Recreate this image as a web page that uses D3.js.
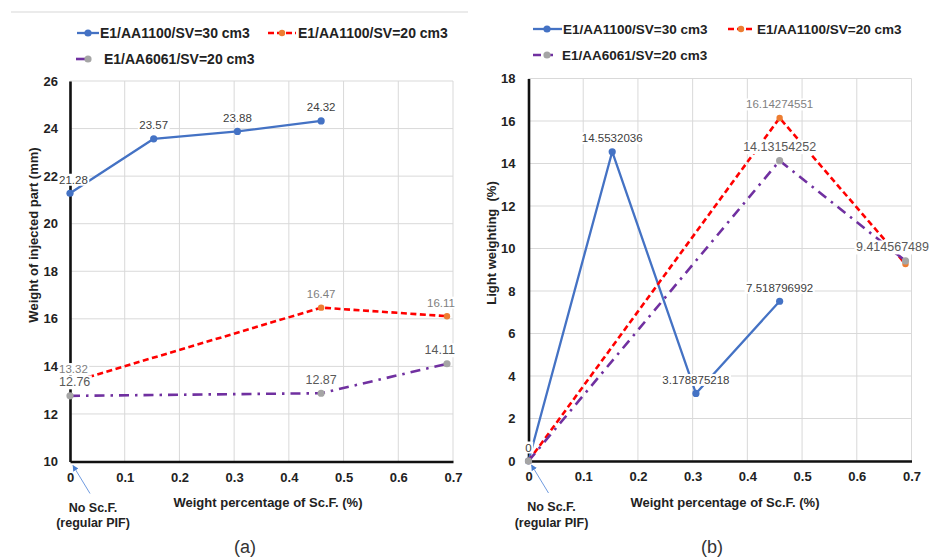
<!DOCTYPE html>
<html>
<head>
<meta charset="utf-8">
<script src="https://cdn.jsdelivr.net/npm/d3@7"></script>
<style>
  body { margin: 0; background: #fff; }
  svg { display: block; font-family: "Liberation Sans", Arial, sans-serif; }
  .pre { white-space: pre; }
</style>
</head>
<body>
<svg id="chart" width="932" height="558"></svg>
<script>
// Weight percentage of Sc.F. (%) at each sample
const xBlue = [0, 0.153, 0.306, 0.459];
const xRedPurple = [0, 0.459, 0.689];

// (a) Weight of injected part (mm)
const weightBlue = [21.28, 23.57, 23.88, 24.32];
const weightRed = [13.32, 16.47, 16.11];
const weightPurple = [12.76, 12.87, 14.11];
const weightBlueShown = [true, true, true, true];
const weightRedShown = [true, true, true];
const weightPurpleShown = [true, true, true];

// (b) Light weighting (%)
const lightBlue = [0, 14.5532036, 3.178875218, 7.518796992];
const lightRed = [0, 16.14274551, 9.27];
const lightPurple = [0, 14.13154252, 9.414567489];
const lightBlueShown = [true, true, true, true];
const lightRedShown = [false, true, false];
const lightPurpleShown = [false, true, true];

const seriesNames = ["E1/AA1100/SV=30 cm3", "E1/AA1100/SV=20 cm3", "E1/AA6061/SV=20 cm3"];
const xTicks = [0, 0.1, 0.2, 0.3, 0.4, 0.5, 0.6, 0.7];
const yTicksA = [10, 12, 14, 16, 18, 20, 22, 24, 26];
const yTicksB = [0, 2, 4, 6, 8, 10, 12, 14, 16, 18];
const xTitle = "Weight percentage of Sc.F. (%)";
const yTitleA = "Weight of injected part (mm)";
const yTitleB = "Light weighting  (%)";
const noteLines = ["No Sc.F.", "(regular PIF)"];

// line / marker / label styling per series
const styles = [
  { stroke: "#4472c4", width: 2.3, dash: null, marker: "#4472c4", r: 3.6, label: "#404040", fs: 11.5 },
  { stroke: "#ff0000", width: 2.6, dash: "6,3.5", marker: "#ed7d31", r: 3.2, label: "#7f7f7f", fs: 11.5 },
  { stroke: "#7030a0", width: 2.6, dash: "10,6,2.5,6", marker: "#a5a5a5", r: 3.6, label: "#595959", fs: 12.5 }
];

const svg = d3.select("#chart");

// thin rule across the top of panel (a)
svg.append("line")
  .attr("x1", 11).attr("x2", 468).attr("y1", 12).attr("y2", 12)
  .attr("stroke", "#e4e4e4").attr("stroke-width", 1.5);

function styleTicks(sel) {
  sel.selectAll("text").attr("font-size", 13).attr("font-weight", "bold").attr("fill", "#222")
    .attr("font-family", "Liberation Sans, Arial, sans-serif");
}

function drawPanel(cfg) {
  const g = svg.append("g");
  const gridLayer = g.append("g");
  const axisLayer = g.append("g");
  const seriesLayer = g.append("g");
  const labelLayer = g.append("g");
  const tickLayer = g.append("g");

  const x = d3.scaleLinear().domain([0, 0.7]).range([cfg.left, cfg.right]);
  const y = d3.scaleLinear().domain(cfg.yDomain).range([cfg.bottom, cfg.top]);

  // gridlines
  gridLayer.append("g").selectAll("line").data(cfg.yTicks).join("line")
    .attr("x1", cfg.left).attr("x2", cfg.right)
    .attr("y1", d => y(d)).attr("y2", d => y(d))
    .attr("stroke", "#d9d9d9").attr("stroke-width", 1);
  gridLayer.append("g").selectAll("line").data(xTicks).join("line")
    .attr("x1", d => x(d)).attr("x2", d => x(d))
    .attr("y1", cfg.top).attr("y2", cfg.bottom)
    .attr("stroke", "#d9d9d9").attr("stroke-width", 1);

  // axis lines (value-axis line sits under the data labels)
  const ax = axisLayer.append("g").attr("transform", `translate(0,${cfg.bottom})`)
    .call(d3.axisBottom(x).tickValues(xTicks).tickSize(0).tickPadding(11)
      .tickFormat(d => d === 0 ? "0" : d3.format(".1f")(d)));
  ax.select(".domain").attr("stroke", "#111").attr("stroke-width", 2.6);
  styleTicks(ax);
  const ayLine = axisLayer.append("g").attr("transform", `translate(${cfg.left},0)`)
    .call(d3.axisLeft(y).tickValues([]).tickSize(0).tickSizeOuter(0));
  ayLine.select(".domain").attr("stroke", "#111").attr("stroke-width", 2.6);

  // value-axis tick labels, kept above the label backings
  const ay = tickLayer.append("g").attr("transform", `translate(${cfg.left},0)`)
    .call(d3.axisLeft(y).tickValues(cfg.yTicks).tickSize(0).tickPadding(cfg.yPad));
  ay.select(".domain").remove();
  styleTicks(ay);

  // series lines and markers
  const line = d3.line().x(d => x(d[0])).y(d => y(d[1]));
  cfg.series.forEach((s, i) => {
    const st = styles[i];
    const pts = s.xs.map((v, k) => [v, s.ys[k]]);
    seriesLayer.append("path").datum(pts).attr("d", line)
      .attr("fill", "none").attr("stroke", st.stroke).attr("stroke-width", st.width)
      .attr("stroke-dasharray", st.dash).attr("stroke-linejoin", "round");
    seriesLayer.append("g").selectAll("circle").data(pts).join("circle")
      .attr("cx", d => x(d[0])).attr("cy", d => y(d[1])).attr("r", st.r)
      .attr("fill", st.marker);
  });

  // data labels with white backing
  cfg.series.forEach((s, i) => {
    const st = styles[i];
    s.xs.forEach((v, k) => {
      if (!s.shown[k]) return;
      const lg = labelLayer.append("g");
      const t = lg.append("text")
        .attr("x", x(v)).attr("y", y(s.ys[k]) - 13.5)
        .attr("text-anchor", "middle").attr("dominant-baseline", "central")
        .attr("font-size", st.fs).attr("fill", st.label)
        .text(String(s.ys[k]));
      let bb = t.node().getBBox();
      const over = bb.x + bb.width - cfg.labelMaxX;
      const under = cfg.labelMinX - bb.x;
      if (over > 0) { t.attr("x", x(v) - over); bb = t.node().getBBox(); }
      else if (under > 0) { t.attr("x", x(v) + under); bb = t.node().getBBox(); }
      lg.insert("rect", "text")
        .attr("x", bb.x - 1.5).attr("y", bb.y).attr("width", bb.width + 3).attr("height", bb.height)
        .attr("fill", "#fff");
    });
  });

  // axis titles
  g.append("text").attr("x", cfg.xTitleX).attr("y", cfg.bottom + 41)
    .attr("text-anchor", "middle").attr("dominant-baseline", "central")
    .attr("font-size", 13).attr("font-weight", "bold").attr("fill", "#222").text(xTitle);
  g.append("text").attr("class", "pre")
    .attr("transform", `translate(${cfg.yTitleX},${cfg.yTitleY}) rotate(-90)`)
    .attr("text-anchor", "middle").attr("dominant-baseline", "central")
    .attr("font-size", 13).attr("font-weight", "bold").attr("fill", "#222").text(cfg.yTitle);

  // note pointing at the zero sample
  const ox = x(0), oy = cfg.bottom;
  const defsId = "arr" + cfg.tag;
  g.append("defs").append("marker").attr("id", defsId)
    .attr("viewBox", "0 0 10 10").attr("refX", 9).attr("refY", 5)
    .attr("markerWidth", 6).attr("markerHeight", 6).attr("orient", "auto")
    .append("path").attr("d", "M0,0 L10,5 L0,10 z").attr("fill", "#4a7fd0");
  g.append("line").attr("x1", ox + 20).attr("y1", oy + 32).attr("x2", ox + 3).attr("y2", oy + 4)
    .attr("stroke", "#6f9be0").attr("stroke-width", 1).attr("marker-end", `url(#${defsId})`);
  noteLines.forEach((s, k) => {
    g.append("text").attr("x", ox + 23).attr("y", oy + 46 + k * 15.5)
      .attr("text-anchor", "middle").attr("dominant-baseline", "central")
      .attr("font-size", 12.5).attr("font-weight", "bold").attr("fill", "#222").text(s);
  });

  // panel caption
  g.append("text").attr("x", cfg.capX).attr("y", 547)
    .attr("text-anchor", "middle").attr("dominant-baseline", "central")
    .attr("font-size", 18).attr("fill", "#333").text(cfg.caption);

  // legend
  cfg.legend.forEach((it, i) => {
    const st = styles[i];
    const lg = g.append("g");
    lg.append("line").attr("x1", it.a).attr("x2", it.b).attr("y1", it.y).attr("y2", it.y)
      .attr("stroke", st.stroke).attr("stroke-width", st.width)
      .attr("stroke-dasharray", i === 0 ? null : (i === 1 ? "6,3" : it.dash));
    lg.append("circle").attr("cx", it.m).attr("cy", it.y).attr("r", st.r).attr("fill", st.marker);
    lg.append("text").attr("x", it.t).attr("y", it.y)
      .attr("dominant-baseline", "central").attr("font-size", cfg.legendFs).attr("font-weight", "bold")
      .attr("fill", "#222").text(seriesNames[i]);
  });
}

drawPanel({
  tag: "a", left: 70, right: 453, top: 81, bottom: 461.5,
  yDomain: [10, 26], yTicks: yTicksA, yPad: 12, labelMaxX: 455, labelMinX: 59,
  series: [
    { xs: xBlue, ys: weightBlue, shown: weightBlueShown },
    { xs: xRedPurple, ys: weightRed, shown: weightRedShown },
    { xs: xRedPurple, ys: weightPurple, shown: weightPurpleShown }
  ],
  xTitleX: 268, yTitle: yTitleA, yTitleX: 33, yTitleY: 235,
  capX: 245, caption: "(a)", legendFs: 14,
  legend: [
    { y: 33, a: 77, b: 99, m: 88, t: 100 },
    { y: 33, a: 268, b: 296, m: 282, t: 298 },
    { y: 59, a: 76, b: 85, m: 88, t: 104, dash: null }
  ]
});

drawPanel({
  tag: "b", left: 528.5, right: 911.5, top: 78.5, bottom: 461,
  yDomain: [0, 18], yTicks: yTicksB, yPad: 13, labelMaxX: 929, labelMinX: 519,
  series: [
    { xs: xBlue, ys: lightBlue, shown: lightBlueShown },
    { xs: xRedPurple, ys: lightRed, shown: lightRedShown },
    { xs: xRedPurple, ys: lightPurple, shown: lightPurpleShown }
  ],
  xTitleX: 725, yTitle: yTitleB, yTitleX: 491, yTitleY: 243,
  capX: 712, caption: "(b)", legendFs: 13.5,
  legend: [
    { y: 29, a: 533, b: 562, m: 547, t: 563 },
    { y: 29, a: 728, b: 755, m: 741, t: 757 },
    { y: 55, a: 533, b: 553, m: 547, t: 562, dash: "8,4" }
  ]
});
</script>
</body>
</html>
